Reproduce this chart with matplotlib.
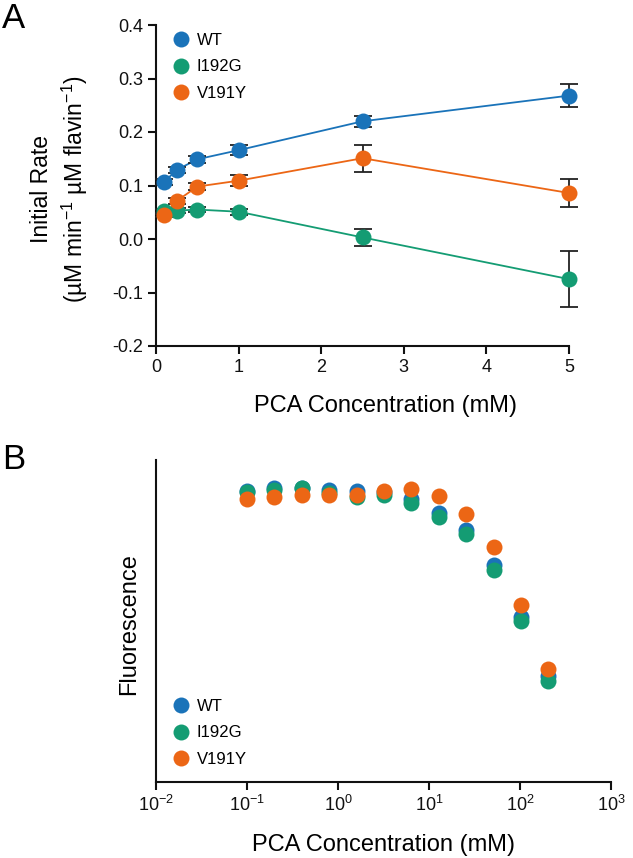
import matplotlib
matplotlib.use("Agg")
import matplotlib.pyplot as plt
from matplotlib.lines import Line2D

plt.rcParams['font.family'] = ['Liberation Sans', 'DejaVu Sans']
plt.rcParams['mathtext.fontset'] = 'custom'
plt.rcParams['mathtext.rm'] = 'Liberation Sans'
plt.rcParams['mathtext.it'] = 'Liberation Sans:italic'
plt.rcParams['mathtext.bf'] = 'Liberation Sans:bold'

# ---- data, panel A ----
conc_a = [0.1, 0.25, 0.5, 1.0, 2.5, 5.0]
wt_rate = [0.107, 0.129, 0.149, 0.166, 0.220, 0.268]
wt_err = [0.006, 0.006, 0.007, 0.009, 0.010, 0.022]
i192g_rate = [0.052, 0.053, 0.055, 0.051, 0.003, -0.075]
i192g_err = [0.005, 0.005, 0.005, 0.006, 0.016, 0.053]
v191y_rate = [0.045, 0.071, 0.098, 0.109, 0.151, 0.086]
v191y_err = [0.004, 0.006, 0.006, 0.010, 0.025, 0.027]

# ---- data, panel B ----
conc_b = [0.1, 0.2, 0.4, 0.8, 1.6, 3.2, 6.4, 12.8, 25.6, 51.2, 102.4, 204.8]
wt_fl = [0.903, 0.912, 0.912, 0.906, 0.904, 0.901, 0.880, 0.836, 0.782, 0.673, 0.511, 0.330]
i192g_fl = [0.901, 0.906, 0.912, 0.898, 0.886, 0.891, 0.867, 0.823, 0.769, 0.659, 0.499, 0.314]
v191y_fl = [0.878, 0.886, 0.891, 0.891, 0.891, 0.904, 0.909, 0.888, 0.832, 0.730, 0.551, 0.352]

names = ["WT", "I192G", "V191Y"]
colors = ["#1a73b9", "#149c73", "#ec6615"]

fig = plt.figure(figsize=(6.33, 8.58), dpi=100)
axA = fig.add_axes([156/633, 1-346/858, 413/633, 321/858])
axB = fig.add_axes([156/633, 1-782/858, 455/633, 322/858])

spine_w = 1.5
ms = 11.5

# panel A
series_a = [(wt_rate, wt_err), (i192g_rate, i192g_err), (v191y_rate, v191y_err)]
for (y, e), c in zip(series_a, colors):
    axA.plot(conc_a, y, '-', color=c, lw=1.3, zorder=2, clip_on=False)
    axA.errorbar(conc_a, y, yerr=e, fmt='none', ecolor='#222222', elinewidth=1.3,
                 capsize=6.5, capthick=1.3, zorder=3, clip_on=False)
for (y, e), c in zip(series_a, colors):
    axA.plot(conc_a, y, 'o', color=c, ms=ms, mec='none', zorder=4, clip_on=False)

axA.set_xlim(0, 5)
axA.set_ylim(-0.2, 0.4)
axA.set_xticks([0, 1, 2, 3, 4, 5])
axA.set_yticks([-0.2, -0.1, 0.0, 0.1, 0.2, 0.3, 0.4])
axA.set_yticklabels(["-0.2", "-0.1", "0.0", "0.1", "0.2", "0.3", "0.4"])
axA.set_xlabel("PCA Concentration (mM)", fontsize=17)
axA.xaxis.set_label_coords(0.555, -0.153)
axA.set_ylabel("Initial Rate\n(µM min$^{-1}$ µM flavin$^{-1}$)", fontsize=16.5,
               linespacing=1.3)
axA.yaxis.set_label_coords(-0.16, 0.49)

# panel B
for y, c in zip([wt_fl, i192g_fl, v191y_fl], colors):
    axB.plot(conc_b, y, 'o', color=c, ms=ms, mec='none', clip_on=False)
axB.set_xscale('log')
axB.set_xlim(1e-2, 1e3)
axB.set_ylim(0, 1)
axB.set_xticks([1e-2, 1e-1, 1e0, 1e1, 1e2, 1e3])
axB.minorticks_off()
axB.set_yticks([])
axB.set_xlabel("PCA Concentration (mM)", fontsize=17)
axB.xaxis.set_label_coords(0.5, -0.162)
axB.set_ylabel("Fluorescence", fontsize=17)
axB.yaxis.set_label_coords(-0.035, 0.49)

for ax in (axA, axB):
    for s in ('top', 'right'):
        ax.spines[s].set_visible(False)
    for s in ('left', 'bottom'):
        ax.spines[s].set_linewidth(spine_w)
        ax.spines[s].set_color('#111111')
    ax.tick_params(direction='out', length=6, width=spine_w, labelsize=13,
                   colors='#111111', pad=3)
    handles = [Line2D([], [], ls='none', marker='o', ms=ms, color=c, mec='none')
               for c in colors]
    leg = ax.legend(handles, names, frameon=False, fontsize=12, handlelength=0.8,
                    handletextpad=0.55, labelspacing=0.68, borderpad=0, borderaxespad=0,
                    loc='upper left')
    ax.patch.set_alpha(0)

axA.get_legend().set_bbox_to_anchor((174/633, 1-33/858), transform=fig.transFigure)
axB.get_legend().set_bbox_to_anchor((174/633, 1-699/858), transform=fig.transFigure)

fig.text(2/633, 1-2/858, "A", fontsize=25, va='top', ha='left')
fig.text(2/633, 1-443/858, "B", fontsize=25, va='top', ha='left')

fig.savefig("out.png", dpi=100)
